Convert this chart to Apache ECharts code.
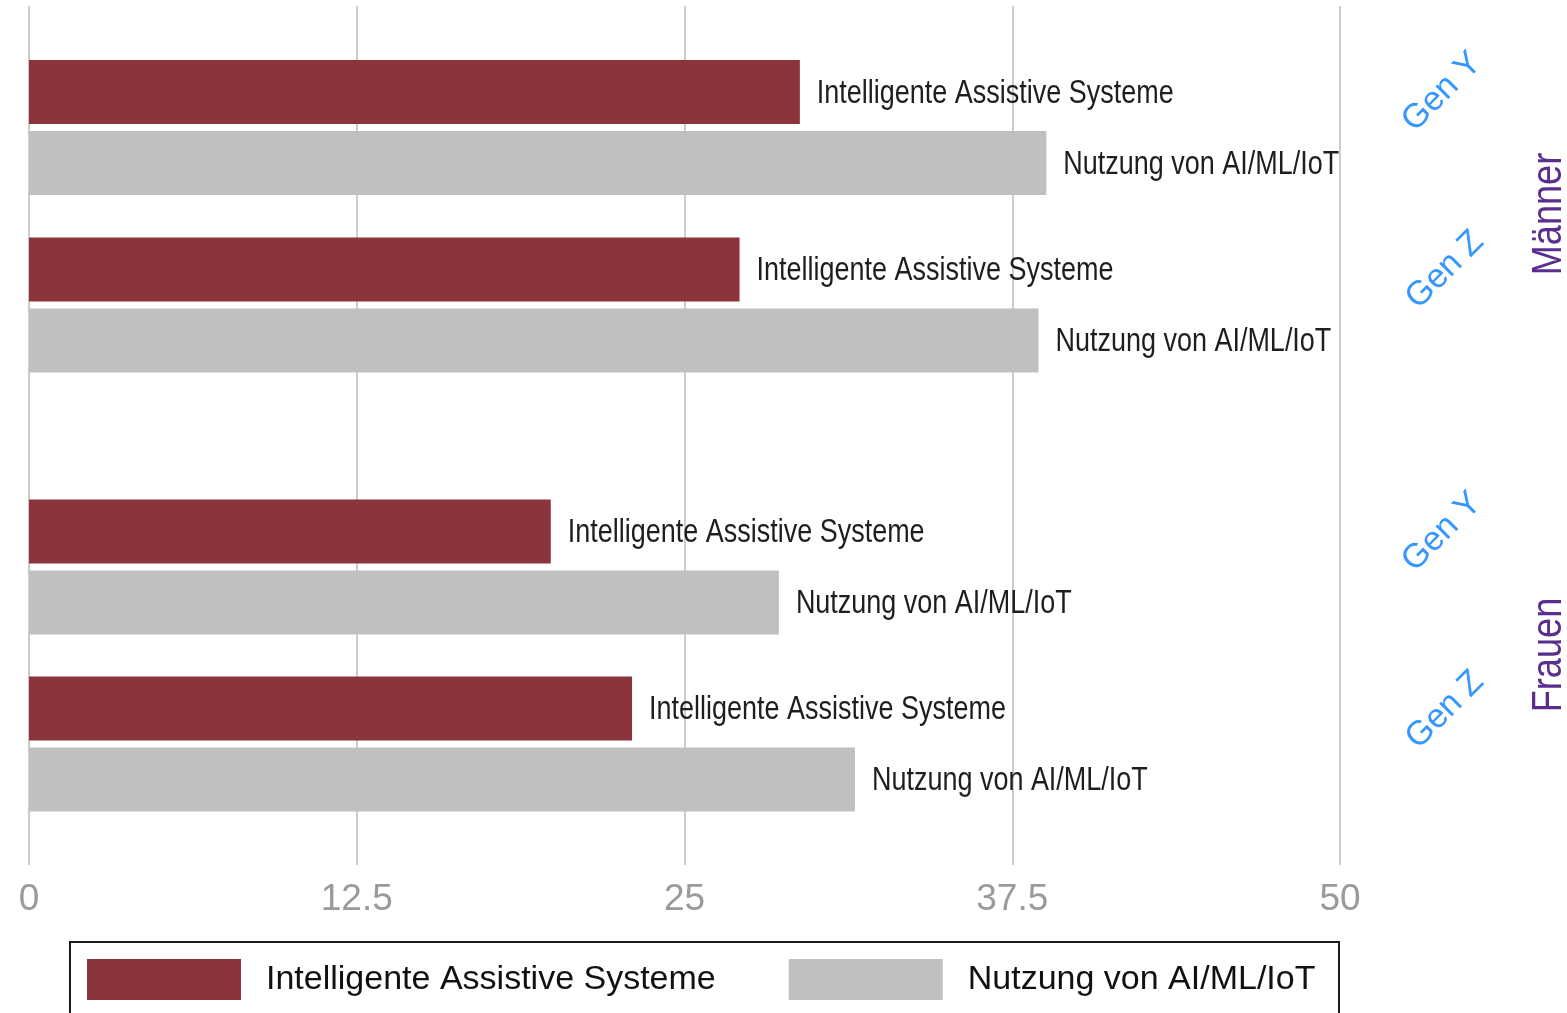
<!DOCTYPE html>
<html>
<head>
<meta charset="utf-8">
<script src="https://cdn.jsdelivr.net/npm/echarts@6/dist/echarts.min.js"></script>
<style>
html,body{margin:0;padding:0;background:#fff;}
#chart{width:1567px;height:1013px;}
</style>
</head>
<body>
<div id="chart"></div>
<script>
// ---- data ----
const generationen = ['Gen Y', 'Gen Z'];
const gruppen = ['Männer', 'Frauen'];
const serienNamen = ['Intelligente Assistive Systeme', 'Nutzung von AI/ML/IoT'];
const maennerIAS = [29.4, 27.1];
const maennerNutzung = [38.8, 38.5];
const frauenIAS = [19.9, 23.0];
const frauenNutzung = [28.6, 31.5];
const xTickLabels = ['0', '12.5', '25', '37.5', '50'];

// ---- style ----
const SANS = "'Liberation Sans', Arial, sans-serif";
const NARROW_SCALE = 0.83;
const RED = '#8c343c';
const GRAY = '#c0c0c0';
const BAR_W = 64;
const BAR_GAP_PX = 7;
const LABEL_DIST = 17;

const chart = echarts.init(document.getElementById('chart'), null, {renderer: 'canvas'});

function barSeries(name, data, idx, color) {
  return {
    type: 'bar', name: name, data: data,
    xAxisIndex: idx, yAxisIndex: idx,
    barWidth: BAR_W, barGap: (BAR_GAP_PX / BAR_W * 100) + '%',
    itemStyle: {color: color},
    silent: true
  };
}

// condensed-looking bar-end labels, positioned through the axes' scales
function labelSeries(name, data, idx, which) {
  const offset = (which === 0 ? -1 : 1) * (BAR_W + BAR_GAP_PX) / 2;
  return {
    type: 'custom', name: 'label-' + idx + '-' + which,
    xAxisIndex: idx, yAxisIndex: idx, silent: true, clip: false,
    data: data.map(function (v, i) { return [v, i]; }),
    renderItem: function (params, api) {
      const p = api.coord([api.value(0), api.value(1)]);
      return {
        type: 'text', x: p[0] + LABEL_DIST, y: p[1] + offset + 2,
        scaleX: NARROW_SCALE,
        style: {text: name, fontSize: 32.5, fontFamily: SANS, fill: '#1e1e1e',
                align: 'left', verticalAlign: 'middle'}
      };
    }
  };
}

function genText(text, x, y) {
  return {type: 'text', x: x, y: y, rotation: Math.PI / 4, silent: true,
    style: {text: text, fontSize: 34, fontFamily: SANS, fill: '#3597ff', align: 'center', verticalAlign: 'middle'}};
}
function groupText(text, x, y) {
  return {type: 'text', x: x, y: y, rotation: Math.PI / 2, scaleX: 0.84, silent: true,
    style: {text: text, fontSize: 43, fontFamily: SANS, fill: '#5a2d8e', align: 'center', verticalAlign: 'middle'}};
}

const option = {
  animation: false,
  backgroundColor: '#ffffff',
  grid: [
    {left: 29, width: 1311, top: 6, height: 859},
    {left: 29, width: 1311, top: 38.75, height: 355},
    {left: 29, width: 1311, top: 478.5, height: 354}
  ],
  xAxis: [
    {
      gridIndex: 0, type: 'value', min: 0, max: 50, interval: 12.5,
      axisLine: {show: false}, axisTick: {show: false},
      splitLine: {show: true, lineStyle: {color: '#cccccc', width: 2}},
      axisLabel: {
        show: true, margin: 16, fontSize: 37, fontFamily: SANS, color: '#9a9a9a',
        formatter: function (v) { return xTickLabels[Math.round(v / 12.5)]; }
      }
    },
    {gridIndex: 1, type: 'value', min: 0, max: 50, show: false},
    {gridIndex: 2, type: 'value', min: 0, max: 50, show: false}
  ],
  yAxis: [
    {gridIndex: 0, type: 'category', data: [''], show: false},
    {gridIndex: 1, type: 'category', data: generationen, inverse: true, show: false},
    {gridIndex: 2, type: 'category', data: generationen, inverse: true, show: false}
  ],
  legend: {
    left: 87, top: 959, padding: 0,
    itemWidth: 154, itemHeight: 41, itemGap: 73,
    icon: 'rect',
    data: serienNamen,
    textStyle: {fontSize: 34, fontFamily: SANS, color: '#111', padding: [0, 0, 0, 20]},
    selectedMode: false
  },
  series: [
    barSeries(serienNamen[0], maennerIAS, 1, RED),
    barSeries(serienNamen[1], maennerNutzung, 1, GRAY),
    barSeries(serienNamen[0], frauenIAS, 2, RED),
    barSeries(serienNamen[1], frauenNutzung, 2, GRAY),
    labelSeries(serienNamen[0], maennerIAS, 1, 0),
    labelSeries(serienNamen[1], maennerNutzung, 1, 1),
    labelSeries(serienNamen[0], frauenIAS, 2, 0),
    labelSeries(serienNamen[1], frauenNutzung, 2, 1)
  ],
  graphic: [
    {type: 'rect', shape: {x: 70, y: 942, width: 1269, height: 110},
     style: {fill: 'none', stroke: '#1a1a1a', lineWidth: 2}, silent: true},
    genText(generationen[0], 1442, 92),
    genText(generationen[1], 1445, 270),
    genText(generationen[0], 1442, 532),
    genText(generationen[1], 1445, 710),
    groupText(gruppen[0], 1549, 214),
    groupText(gruppen[1], 1549, 655)
  ]
};

chart.setOption(option);
</script>
</body>
</html>
